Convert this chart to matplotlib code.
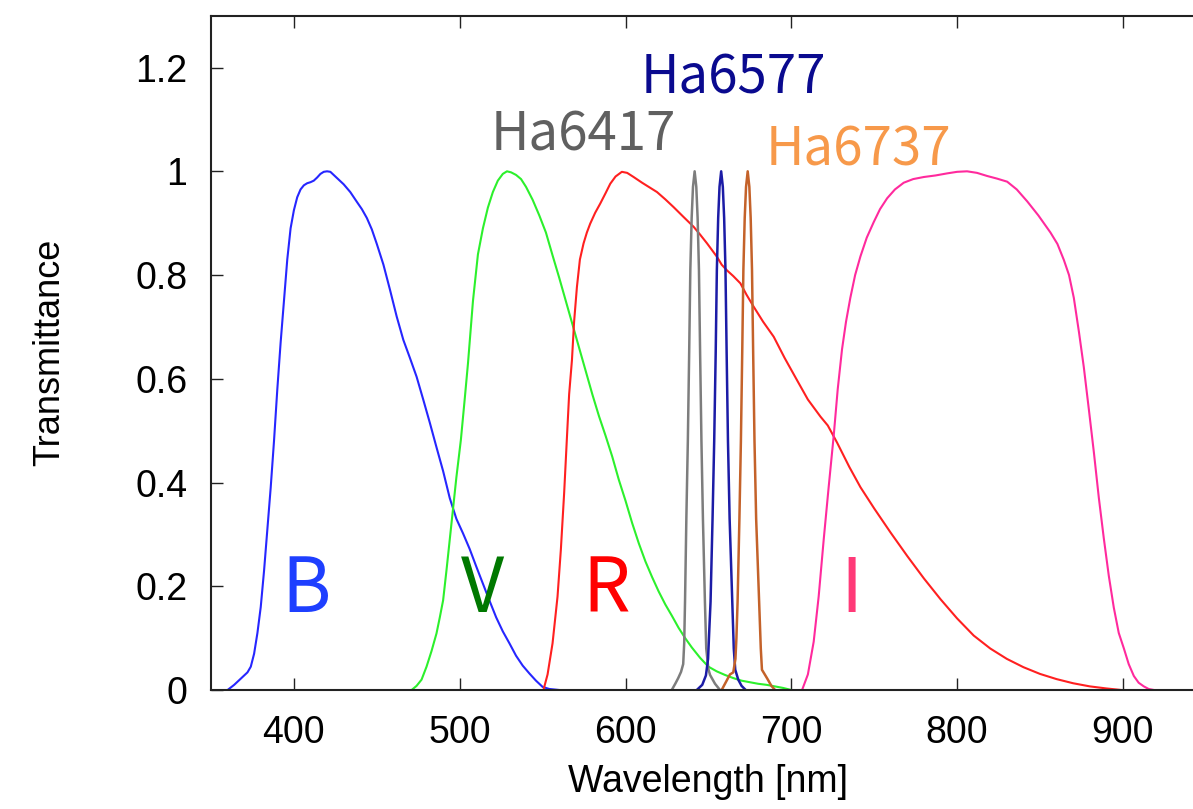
import matplotlib
matplotlib.use("Agg")
import matplotlib.pyplot as plt

# ---------------- data ----------------
b_wl = [360, 364, 368, 372, 374, 376, 378, 380, 382, 384, 386, 388, 390, 392, 394, 396, 398,
        400, 402, 404, 406, 408, 410, 412, 414, 416, 418, 420, 422, 424, 427, 430, 434, 438,
        441, 444, 447, 450, 454, 458, 462, 466, 470, 474, 478, 482, 486, 490, 494, 498, 502,
        506, 510, 514, 518, 522, 526, 530, 534, 538, 542, 546, 550, 554, 560]
b_tr = [0.0, 0.01, 0.022, 0.034, 0.045, 0.07, 0.11, 0.16, 0.23, 0.31, 0.39, 0.48, 0.58, 0.67,
        0.75, 0.83, 0.89, 0.925, 0.95, 0.965, 0.973, 0.977, 0.979, 0.982, 0.988, 0.995, 0.999,
        1.0, 0.999, 0.993, 0.984, 0.975, 0.96, 0.941, 0.927, 0.91, 0.888, 0.86, 0.82, 0.771,
        0.72, 0.675, 0.64, 0.604, 0.56, 0.515, 0.468, 0.422, 0.37, 0.33, 0.302, 0.272, 0.238,
        0.205, 0.172, 0.14, 0.113, 0.09, 0.066, 0.047, 0.032, 0.018, 0.006, 0.002, 0.0]

v_wl = [471, 474, 477, 480, 483, 486, 488, 490, 492, 494, 496, 498, 500.7, 503, 505, 508, 511,
        514, 517, 520, 523, 526, 528.5, 531, 534, 537, 540, 544, 548, 552, 556, 560, 564, 568,
        572, 576, 580, 584, 588, 592, 596, 600, 604, 608, 612, 616, 620, 624, 628, 632, 636,
        640, 645, 650, 655, 660, 665, 670, 675, 680, 685, 690, 695, 700]
v_tr = [0.0, 0.008, 0.02, 0.045, 0.075, 0.109, 0.14, 0.173, 0.23, 0.29, 0.35, 0.41, 0.482, 0.56,
        0.63, 0.75, 0.84, 0.89, 0.93, 0.96, 0.982, 0.995, 1.0, 0.998, 0.993, 0.985, 0.97, 0.945,
        0.915, 0.882, 0.838, 0.795, 0.75, 0.705, 0.66, 0.615, 0.57, 0.528, 0.49, 0.45, 0.405,
        0.365, 0.322, 0.283, 0.248, 0.218, 0.19, 0.165, 0.143, 0.12, 0.1, 0.082, 0.062, 0.045,
        0.036, 0.029, 0.023, 0.018, 0.015, 0.012, 0.01, 0.007, 0.004, 0.0]

r_wl = [550.5, 553, 556, 559, 561, 563, 564.6, 566, 567.7, 569, 570.7, 572.5, 574.7, 576.7,
        578.7, 581.7, 584.8, 588, 590.8, 594, 597.8, 601, 604.9, 610, 615, 619, 624, 629, 635,
        641.1, 645, 649.2, 655.2, 658, 661.2, 665, 669.3, 673, 677.3, 683, 689.4, 696, 703.5,
        710, 717.6, 722, 727.6, 735, 741.7, 750, 760, 770, 780, 790, 800, 810, 820, 830, 840,
        850, 860, 870, 880, 890, 899]
r_tr = [0.0, 0.03, 0.09, 0.18, 0.27, 0.38, 0.482, 0.57, 0.636, 0.71, 0.777, 0.83, 0.861, 0.882,
        0.899, 0.92, 0.938, 0.958, 0.976, 0.99, 0.999, 0.997, 0.989, 0.978, 0.968, 0.96, 0.946,
        0.931, 0.912, 0.893, 0.878, 0.861, 0.835, 0.82, 0.809, 0.798, 0.784, 0.762, 0.739, 0.71,
        0.681, 0.64, 0.597, 0.56, 0.527, 0.51, 0.477, 0.43, 0.391, 0.35, 0.303, 0.258, 0.215,
        0.175, 0.138, 0.105, 0.08, 0.06, 0.044, 0.031, 0.021, 0.013, 0.007, 0.003, 0.0]

i_wl = [706.5, 710, 713.5, 716.5, 719.6, 722.5, 725.6, 728, 730.6, 733, 735.6, 738.5, 741.7,
        745.5, 749.7, 753.5, 757.8, 762.5, 767.8, 773.5, 779.9, 787, 794, 800, 806, 812, 818.1,
        824, 830.2, 836, 842.3, 849, 856.3, 860.5, 864.4, 867.5, 870.4, 873.5, 876.4, 879.5,
        882.5, 885.5, 888.5, 891.5, 894.5, 897.5, 900.6, 903.5, 906.6, 909.5, 912.6, 915.5, 918.7]
i_tr = [0.0, 0.03, 0.093, 0.18, 0.292, 0.39, 0.491, 0.58, 0.657, 0.71, 0.756, 0.8, 0.836, 0.872,
        0.902, 0.927, 0.948, 0.965, 0.978, 0.985, 0.989, 0.992, 0.996, 0.999, 1.0, 0.997, 0.991,
        0.986, 0.98, 0.965, 0.942, 0.915, 0.882, 0.86, 0.829, 0.8, 0.756, 0.69, 0.623, 0.54,
        0.458, 0.37, 0.292, 0.22, 0.159, 0.11, 0.08, 0.05, 0.027, 0.014, 0.007, 0.002, 0.0]

ha6417_wl = [627.9, 630, 631.8, 633.5, 634.8, 635.4, 635.9, 636.7, 637.6, 638.4, 639.1, 639.9,
             640.7, 641.7, 642.7, 643.5, 644.3, 645.0, 645.8, 646.7, 647.9, 648.7, 650, 651,
             654, 657]
ha6417_tr = [0.0, 0.012, 0.023, 0.035, 0.05, 0.09, 0.17, 0.33, 0.48, 0.65, 0.81, 0.91, 0.97,
             1.0, 0.97, 0.91, 0.81, 0.65, 0.48, 0.33, 0.17, 0.08, 0.04, 0.029, 0.012, 0.0]

ha6577_wl = [643, 646.3, 648.5, 649.8, 650.6, 651.3, 652.5, 653.5, 654.4, 655.1, 655.9, 656.7,
             657.7, 658.7, 659.5, 660.3, 661.0, 661.8, 662.8, 664.4, 665.3, 666.2, 668, 670,
             672.5]
ha6577_tr = [0.0, 0.01, 0.028, 0.06, 0.12, 0.17, 0.33, 0.48, 0.65, 0.81, 0.91, 0.97, 1.0, 0.97,
             0.91, 0.81, 0.65, 0.48, 0.33, 0.17, 0.08, 0.039, 0.02, 0.008, 0.0]

ha6737_wl = [658, 660.5, 663, 665, 666.3, 666.9, 667.6, 668.7, 669.6, 670.4, 671.1, 671.9,
             672.7, 673.7, 674.7, 675.5, 676.3, 677.0, 677.8, 678.8, 680.6, 681.6, 682.3, 684,
             685.5, 688, 690.2]
ha6737_tr = [0.0, 0.015, 0.03, 0.034, 0.06, 0.1, 0.17, 0.33, 0.48, 0.65, 0.81, 0.91, 0.97, 1.0,
             0.97, 0.91, 0.81, 0.65, 0.48, 0.33, 0.17, 0.08, 0.039, 0.03, 0.022, 0.008, 0.0]

x_ticks = [400, 500, 600, 700, 800, 900]
y_ticks = [0, 0.2, 0.4, 0.6, 0.8, 1.0, 1.2]
y_tick_labels = ["0", "0.2", "0.4", "0.6", "0.8", "1", "1.2"]

# ---------------- figure ----------------
W, H = 1193, 809
fig = plt.figure(figsize=(W / 100, H / 100), dpi=100)
left_px, bottom_px, top_px = 211, 690, 15.7
right_px = 211 + 600 * 1.658
ax = fig.add_axes([left_px / W, (H - bottom_px) / H,
                   (right_px - left_px) / W, (bottom_px - top_px) / H])

lw = 1.5
ax.plot(b_wl, b_tr, color="#2626ff", lw=lw)
ax.plot(v_wl, v_tr, color="#2cf02c", lw=lw)
ax.plot(r_wl, r_tr, color="#ff2020", lw=lw)
ax.plot(i_wl, i_tr, color="#ff2a9d", lw=lw)
ax.plot(ha6417_wl, ha6417_tr, color="#7d7d7d", lw=1.8)
ax.plot(ha6577_wl, ha6577_tr, color="#1c1ca6", lw=1.8)
ax.plot(ha6737_wl, ha6737_tr, color="#c4622a", lw=1.8)

ax.set_xlim(350, 950)
ax.set_ylim(0, 1.3)
ax.set_xticks(x_ticks)
ax.set_yticks(y_ticks)
ax.set_yticklabels(y_tick_labels)

tick_font = "Liberation Sans"
ax.tick_params(axis="both", direction="in", length=8.6, width=1.0, color="#222222",
               top=True, right=True, labelsize=27)
ax.tick_params(axis="y", pad=17)
ax.tick_params(axis="x", pad=18)
for lab in ax.get_xticklabels() + ax.get_yticklabels():
    lab.set_fontfamily(tick_font)
for s in ax.spines.values():
    s.set_linewidth(1.5)
    s.set_color("#222222")

ax.set_xlabel("Wavelength [nm]", fontsize=27, fontfamily=tick_font)
ax.set_ylabel("Transmittance", fontsize=26, fontfamily=tick_font)
ax.xaxis.set_label_coords(0.5, (bottom_px - 782) / (bottom_px - top_px))
ax.xaxis.label.set_va("center")
ax.yaxis.set_label_coords((50 - left_px) / (right_px - left_px), 0.5)
ax.yaxis.label.set_va("center")

lab_font = ["Noto Sans CJK JP", "DejaVu Sans"]
ax.text(664.8, 1.150, "Ha6577", color="#0a0a8f", fontsize=38, ha="center", va="baseline",
        family=lab_font)
ax.text(574.4, 1.040, "Ha6417", color="#606060", fontsize=38, ha="center", va="baseline",
        family=lab_font)
ax.text(740.2, 1.012, "Ha6737", color="#f7994a", fontsize=38, ha="center", va="baseline",
        family=lab_font)
ax.text(407.3, 0.151, "B", color="#1e3fff", fontsize=54, ha="center", va="baseline",
        family=lab_font)
ax.text(513.8, 0.151, "V", color="#007800", fontsize=54, ha="center", va="baseline",
        family=lab_font)
ax.text(588.2, 0.151, "R", color="#ff0000", fontsize=54, ha="center", va="baseline",
        family=lab_font)
ax.text(736.0, 0.151, "I", color="#ff3a78", fontsize=54, ha="center", va="baseline",
        family=lab_font)

fig.savefig("out.png", dpi=100)
